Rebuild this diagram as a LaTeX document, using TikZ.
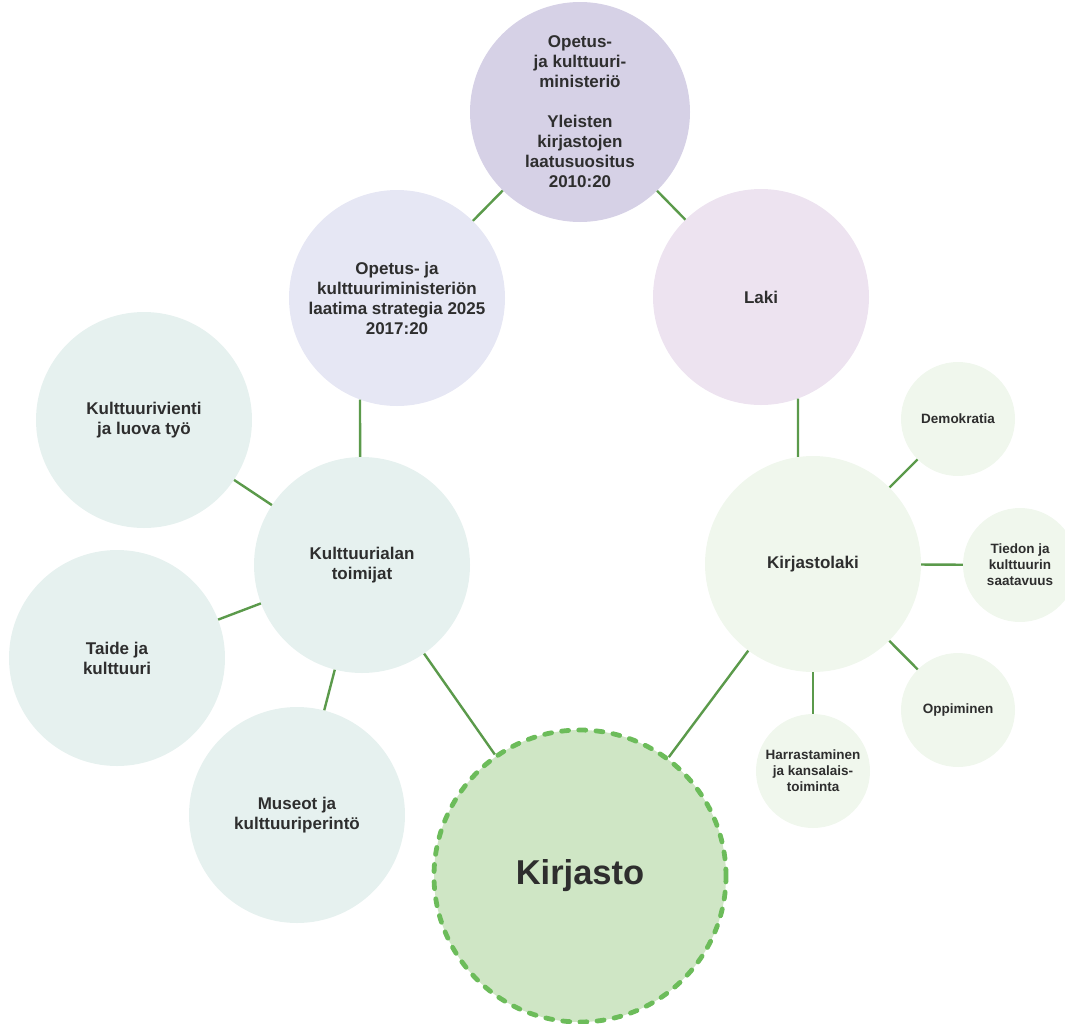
\documentclass[tikz,border=0pt]{standalone}
\usepackage{fontspec}
\setmainfont{Liberation Sans}
\begin{document}
\begin{tikzpicture}[x=1pt,y=-1pt,
  bubble/.style={circle,inner sep=0pt,align=center,text=textgray,
    font=\bfseries\fontsize{17}{20}\selectfont},
  big/.style={bubble,minimum size=216pt},
  small/.style={bubble,minimum size=114pt,font=\bfseries\fontsize{13.5}{16}\selectfont},
  link/.style={draw=linkgreen,line width=2.4pt}]
\definecolor{textgray}{HTML}{2E2E2E}
\definecolor{linkgreen}{HTML}{5B9A4B}
\definecolor{ministry}{HTML}{D6D1E6}
\definecolor{strategy}{HTML}{E6E7F4}
\definecolor{law}{HTML}{EDE3F0}
\definecolor{culture}{HTML}{E6F1EF}
\definecolor{libfill}{HTML}{F0F7ED}
\definecolor{libcore}{HTML}{CFE6C5}
\definecolor{libdash}{HTML}{6CBC5A}
\useasboundingbox (0,0) rectangle (1065,1023);

% governance
\node[big,minimum size=220pt,fill=ministry] (okm) at (580,112)
  {Opetus-\\ja kulttuuri-\\ministeriö\\[20pt]Yleisten\\kirjastojen\\laatusuositus\\2010:20};
\node[big,fill=strategy] (strat) at (397,298)
  {Opetus- ja\\kulttuuriministeriön\\laatima strategia 2025\\2017:20};
\node[big,fill=law] (laki) at (761,297) {Laki};

% cultural sector
\node[big,fill=culture] (toim) at (362,565) {Kulttuurialan\\toimijat};
\node[big,fill=culture] (vienti) at (144,420) {Kulttuurivienti\\ja luova työ};
\node[big,fill=culture] (taide) at (117,658) {Taide ja\\kulttuuri};
\node[big,fill=culture] (museot) at (297,815) {Museot ja\\kulttuuriperintö};

% library act
\node[big,fill=libfill] (klaki) at (813,564) {Kirjastolaki};
\node[small,fill=libfill] (demo) at (958,419) {Demokratia};
\node[small,fill=libfill] (tieto) at (1020,565) {Tiedon ja\\kulttuurin\\saatavuus};
\node[small,fill=libfill] (oppi) at (958,710) {Oppiminen};
\node[small,fill=libfill] (harr) at (813,771) {Harrastaminen\\ja kansalais-\\toiminta};

% library
\node[circle,inner sep=0pt,minimum size=292pt,fill=libcore,draw=libdash,
  line width=4.8pt,line cap=round,dash pattern=on 7pt off 10.2pt,
  text=textgray,font=\bfseries\fontsize{34.5}{40}\selectfont] (kirj) at (580,876) {Kirjasto};

% connectors
\draw[link] (okm) -- (strat);
\draw[link] (okm) -- (laki);
\draw[link] (strat.-110) -- (toim.91);
\draw[link] (laki.-70) -- (klaki.98);
\draw[link] (vienti) -- (toim);
\draw[link] (taide) -- (toim);
\draw[link] (museot) -- (toim);
\draw[link] (toim) -- (kirj);
\draw[link] (klaki) -- (kirj);
\draw[link] (klaki) -- (demo);
\draw[link] (klaki) -- (tieto);
\draw[link] (klaki) -- (oppi);
\draw[link] (klaki) -- (harr);
\end{tikzpicture}
\end{document}
